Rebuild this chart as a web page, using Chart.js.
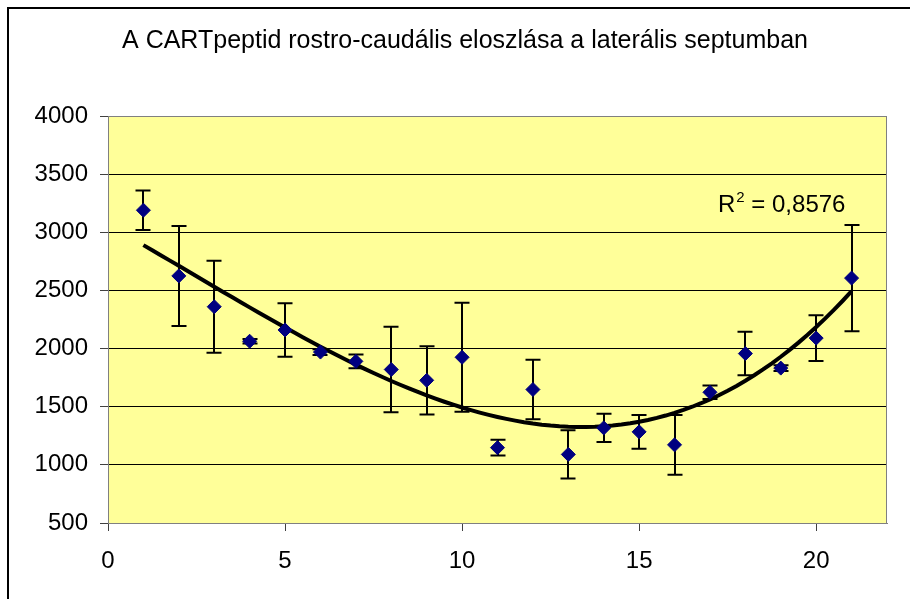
<!DOCTYPE html>
<html>
<head>
<meta charset="utf-8">
<script src="https://cdn.jsdelivr.net/npm/chart.js@4.4.1/dist/chart.umd.min.js"></script>
<style>
    html, body { margin: 0; padding: 0; background: #fff; }
    #wrap { width: 910px; height: 599px; position: relative; }
</style>
</head>
<body>
<div id="wrap"><canvas id="chart" width="910" height="599"></canvas></div>
<script>
const chartTitle = 'A CARTpeptid rostro-caudális eloszlása a laterális septumban';
const positions = [1, 2, 3, 4, 5, 6, 7, 8, 9, 10, 11, 12, 13, 14, 15, 16, 17, 18, 19, 20, 21];
const means = [3190, 2625, 2360, 2063, 2160, 1970, 1890, 1820, 1727, 1925, 1148, 1648, 1090, 1318, 1284, 1172, 1624, 1957, 1832, 2090, 2606];
const errors = [170, 430, 395, 20, 230, 25, 60, 368, 293, 468, 68, 255, 208, 122, 145, 257, 58, 187, 25, 197, 457];
const xTicks = [0, 5, 10, 15, 20];
const yTicks = [500, 1000, 1500, 2000, 2500, 3000, 3500, 4000];
const rSquaredText = '0,8576';
const trendOrder = 3;

const FONT = 'Arial, "Liberation Sans", sans-serif';

// polynomial trendline (least squares), like the excel trendline
function polyFit(xs, ys, order) {
    const n = order + 1;
    const m = [];
    for (let i = 0; i < n; i++) {
        m.push([]);
        for (let j = 0; j <= n; j++) m[i].push(0);
    }
    xs.forEach((x, p) => {
        for (let i = 0; i < n; i++) {
            for (let j = 0; j < n; j++) m[i][j] += Math.pow(x, i + j);
            m[i][n] += Math.pow(x, i) * ys[p];
        }
    });
    for (let i = 0; i < n; i++) {
        for (let j = i + 1; j < n; j++) {
            const f = m[j][i] / m[i][i];
            for (let k = i; k <= n; k++) m[j][k] -= f * m[i][k];
        }
    }
    const c = new Array(n).fill(0);
    for (let i = n - 1; i >= 0; i--) {
        let v = m[i][n];
        for (let k = i + 1; k < n; k++) v -= m[i][k] * c[k];
        c[i] = v / m[i][i];
    }
    return c;
}

const coef = polyFit(positions, means, trendOrder);
const trendPoints = [];
for (let x = positions[0]; x <= positions[positions.length - 1] + 0.001; x += 0.25) {
    let y = 0;
    coef.forEach((c, k) => { y += c * Math.pow(x, k); });
    trendPoints.push({ x: x, y: y });
}

const chartDecor = {
    id: 'chartDecor',
    beforeDraw(chart) {
        const { ctx, chartArea: a } = chart;
        ctx.save();
        ctx.fillStyle = '#ffff99';
        ctx.fillRect(a.left, a.top, a.right - a.left, a.bottom - a.top);
        // outer frame (only top and left are visible in the crop)
        ctx.strokeStyle = '#000';
        ctx.lineWidth = 2;
        ctx.beginPath();
        ctx.moveTo(8, 599);
        ctx.lineTo(8, 8);
        ctx.lineTo(910, 8);
        ctx.stroke();
        // title
        ctx.fillStyle = '#000';
        ctx.font = '25px ' + FONT;
        ctx.textAlign = 'center';
        ctx.textBaseline = 'alphabetic';
        ctx.fillText(chartTitle, 465, 48);
        ctx.restore();
    },
    beforeDatasetsDraw(chart) {
        const { ctx, chartArea: a } = chart;
        const xs = chart.scales.x;
        const ys = chart.scales.y;
        ctx.save();
        ctx.strokeStyle = '#808080';
        ctx.lineWidth = 1;
        ctx.beginPath();
        ctx.moveTo(a.left, a.top + 0.5);
        ctx.lineTo(a.right - 0.5, a.top + 0.5);
        ctx.lineTo(a.right - 0.5, a.bottom);
        ctx.stroke();
        // error bars
        ctx.strokeStyle = '#000';
        ctx.lineWidth = 2;
        positions.forEach((p, i) => {
            const px = Math.round(xs.getPixelForValue(p));
            const top = ys.getPixelForValue(means[i] + errors[i]);
            const bot = ys.getPixelForValue(means[i] - errors[i]);
            ctx.beginPath();
            ctx.moveTo(px, top);
            ctx.lineTo(px, bot);
            ctx.moveTo(px - 7.5, top);
            ctx.lineTo(px + 7.5, top);
            ctx.moveTo(px - 7.5, bot);
            ctx.lineTo(px + 7.5, bot);
            ctx.stroke();
        });
        ctx.restore();
    },
    afterDatasetsDraw(chart) {
        const { ctx } = chart;
        ctx.save();
        ctx.fillStyle = '#000';
        ctx.textBaseline = 'alphabetic';
        ctx.textAlign = 'left';
        let x = 718;
        const base = 212;
        ctx.font = '24px ' + FONT;
        ctx.fillText('R', x, base);
        x += ctx.measureText('R').width + 1;
        ctx.font = '15px ' + FONT;
        ctx.fillText('2', x, base - 10);
        x += ctx.measureText('2').width;
        ctx.font = '24px ' + FONT;
        ctx.fillText(' = ' + rSquaredText, x, base);
        ctx.restore();
    }
};

new Chart(document.getElementById('chart'), {
    data: {
        datasets: [{
            type: 'scatter',
            label: 'CART',
            data: positions.map((p, i) => ({ x: p, y: means[i] })),
            pointStyle: 'rectRot',
            pointRadius: 7,
            pointBorderWidth: 1,
            backgroundColor: '#000080',
            borderColor: '#000080',
            order: 1
        }, {
            type: 'line',
            label: 'trend',
            data: trendPoints,
            borderColor: '#000',
            borderWidth: 4,
            pointRadius: 0,
            fill: false,
            order: 2
        }]
    },
    options: {
        responsive: false,
        animation: false,
        devicePixelRatio: 1,
        layout: { padding: { left: 0, top: 116, right: 23, bottom: 0 } },
        plugins: {
            legend: { display: false },
            tooltip: { enabled: false }
        },
        scales: {
            x: {
                type: 'linear',
                min: 0,
                max: 22,
                afterBuildTicks: (scale) => { scale.ticks = xTicks.map(v => ({ value: v })); },
                afterFit: (scale) => { scale.height = 76; },
                grid: { drawOnChartArea: false, tickLength: 8, tickColor: '#404040' },
                border: { color: '#808080', width: 1 },
                ticks: { color: '#000', font: { family: FONT, size: 24 }, padding: 16, maxRotation: 0, callback: (v) => String(v) }
            },
            y: {
                min: 500,
                max: 4000,
                afterBuildTicks: (scale) => { scale.ticks = yTicks.map(v => ({ value: v })); },
                afterFit: (scale) => { scale.width = 108; },
                grid: {
                    color: (c) => (c.tick && c.tick.value === 4000 ? '#808080' : '#000'),
                    tickLength: 8,
                    tickColor: '#404040'
                },
                border: { color: '#808080', width: 1 },
                ticks: { color: '#000', font: { family: FONT, size: 24 }, padding: 12, callback: (v) => String(v) }
            }
        }
    },
    plugins: [chartDecor]
});
</script>
</body>
</html>
